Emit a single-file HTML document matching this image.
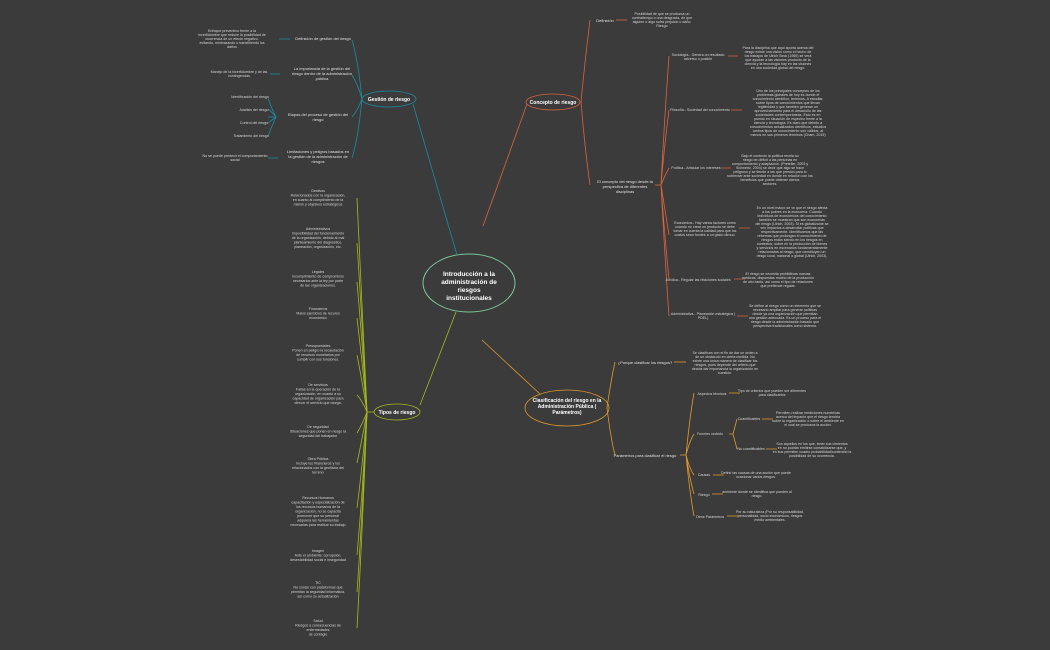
<!DOCTYPE html>
<html><head><meta charset="utf-8"><style>
html,body{margin:0;padding:0;background:#3b3b3b;}
svg{display:block;}
text{font-family:"Liberation Sans",sans-serif;}
.t{font-size:3.6px;fill:#d4d4d4;text-anchor:middle;}
.l{font-size:4px;fill:#e0e0e0;text-anchor:middle;}
.m{font-size:5px;fill:#fff;font-weight:bold;text-anchor:middle;}
</style></head><body>
<svg width="1050" height="650" viewBox="0 0 1050 650" xmlns="http://www.w3.org/2000/svg" fill="none">
<rect width="1050" height="650" fill="#3b3b3b"/>

<!-- central -->
<ellipse cx="469" cy="283" rx="46" ry="29" stroke="#7cc79a" stroke-width="1"/>
<text class="m" style="font-size:6.5px" x="469" y="276">Introducción a la</text>
<text class="m" style="font-size:6.5px" x="469" y="284">administración de</text>
<text class="m" style="font-size:6.5px" x="469" y="292">riesgos</text>
<text class="m" style="font-size:6.5px" x="469" y="300">institucionales</text>

<!-- ===== Gestión de riesgo (teal) ===== -->
<g stroke="#1d8aa3" stroke-width="0.8">
<path d="M457 255 L413 104"/>
<ellipse cx="389" cy="99" rx="27" ry="8"/>
<path d="M362 99 Q358 60 352 40"/>
<path d="M362 99 Q358 85 352 75"/>
<path d="M362 99 Q358 110 352 117"/>
<path d="M362 99 Q358 140 352 158"/>
<path d="M279 39 L290 39"/>
<path d="M270 74 L280 74"/>
<path d="M276 117 Q272 110 268 98 M276 117 Q272 112 268 109 M276 117 Q272 120 268 123 M276 117 Q272 126 268 136"/>
<path d="M268 117 L276 117"/>
<path d="M268 158 L278 158"/>
</g>
<text class="m" x="389" y="101">Gestión de riesgo</text>
<text class="l" x="323" y="40">Definición de gestión del riesgo</text>
<text class="l" x="322" y="70">La importancia de la gestión del</text>
<text class="l" x="322" y="75">riesgo dentro de la administración</text>
<text class="l" x="322" y="80">pública</text>
<text class="l" x="318" y="116">Etapas del proceso de gestión del</text>
<text class="l" x="318" y="121">riesgo</text>
<text class="l" x="318" y="153">Limitaciones y peligros basados en</text>
<text class="l" x="318" y="158">la gestión de la administración de</text>
<text class="l" x="318" y="163">riesgos</text>
<text class="t" x="232" y="32">Enfoque preventivo frente a la</text>
<text class="t" x="232" y="36">incertidumbre que reduce la posibilidad de</text>
<text class="t" x="232" y="40">ocurrencia de un efecto negativo,</text>
<text class="t" x="232" y="44">evitando, minimizando o transfiriendo los</text>
<text class="t" x="232" y="48">daños</text>
<text class="t" x="239" y="73">Manejo de la incertidumbre y de las</text>
<text class="t" x="239" y="77">contingencias</text>
<text class="t" x="250" y="98">Identificación del riesgo</text>
<text class="t" x="254" y="111">Análisis del riesgo</text>
<text class="t" x="254" y="124">Control del riesgo</text>
<text class="t" x="251" y="137">Tratamiento del riesgo</text>
<text class="t" x="235" y="157">No se puede predecir el comportamiento</text>
<text class="t" x="235" y="161">social</text>

<!-- ===== Concepto de riesgo (orange red) ===== -->
<g stroke="#d9653c" stroke-width="0.8">
<path d="M483 226 L527 104"/>
<ellipse cx="553" cy="102" rx="27" ry="8"/>
<path d="M581 102 Q585 60 590 20"/>
<path d="M581 102 Q585 150 590 185"/>
<path d="M616 20 L627 20"/>
<path d="M661 185 Q665 110 669 56 M661 185 Q665 140 669 110 M661 185 Q665 175 669 168 M661 185 Q665 210 669 235 M661 185 Q665 240 669 279 M661 185 Q665 260 669 316"/>
<path d="M655 185 L661 185"/>
<path d="M728 56 L738 56 M731 110 L742 110 M721 168 L731 168 M739 228 L750 228 M734 279 L745 279 M737 316 L748 316"/>
</g>
<text class="m" x="553" y="104">Concepto de riesgo</text>
<text class="l" x="605" y="22">Definición</text>
<text class="t" x="662" y="15">Posibilidad de que se produzca un</text>
<text class="t" x="662" y="19">contratiempo o una desgracia, de que</text>
<text class="t" x="662" y="23">alguien o algo sufra perjuicio o daño.</text>
<text class="t" x="662" y="27">Riesgo</text>
<text class="l" x="625" y="183">El concepto del riesgo desde la</text>
<text class="l" x="625" y="188">perspectiva de diferentes</text>
<text class="l" x="625" y="193">disciplinas</text>
<text class="t" x="698" y="56">Sociología.- Genera un resultado</text>
<text class="t" x="698" y="60">adverso o posible</text>
<text class="t" x="778" y="49">Para la disciplina que aquí aporta acerca del</text>
<text class="t" x="778" y="53">riesgo existe una visión como el hecho de</text>
<text class="t" x="778" y="57">los trabajos de Ulrich Beck (1986) se verá</text>
<text class="t" x="778" y="61">que ayudan a las visiones producto de la</text>
<text class="t" x="778" y="65">ciencia y la tecnología hay en las visiones</text>
<text class="t" x="778" y="69">en una sociedad global del riesgo.</text>
<text class="t" x="700" y="111">Filosofía.- Sociedad del conocimiento</text>
<text class="t" x="788" y="92">Uno de los principales conceptos de los</text>
<text class="t" x="788" y="96">problemas globales de hoy es donde el</text>
<text class="t" x="788" y="100">conocimiento científico, tenemos. A estudiar,</text>
<text class="t" x="788" y="104">sobre tipos de conocimientos que llevan</text>
<text class="t" x="788" y="108">legitimidad y que también generan un</text>
<text class="t" x="788" y="112">aprovechamiento para el desarrollo de las</text>
<text class="t" x="788" y="116">sociedades contemporáneas. Esto es en</text>
<text class="t" x="788" y="120">puesto en situación de espectro frente a la</text>
<text class="t" x="788" y="124">ciencia y tecnología. Es claro que debido a</text>
<text class="t" x="788" y="128">conocimientos actualizados científicos, estudios</text>
<text class="t" x="788" y="132">ambos tipos de conocimiento son válidos, al</text>
<text class="t" x="788" y="136">menos en sus primeros términos (Cham, 2015)</text>
<text class="t" x="696" y="169">Política.- Articular los intereses</text>
<text class="t" x="770" y="157">Bajo el contexto la política revela su</text>
<text class="t" x="770" y="161">riesgo de déficit a las personas en</text>
<text class="t" x="770" y="165">comportamiento y adaptación. (Preteller, 2003 y</text>
<text class="t" x="770" y="169">Schwertz, 2004) se decir que algo se hace</text>
<text class="t" x="770" y="173">peligroso y se tiende a las que presión para lo</text>
<text class="t" x="770" y="177">sobrevivir ante sociedad en donde en relación con los</text>
<text class="t" x="770" y="181">beneficios que puede obtener ciertos</text>
<text class="t" x="770" y="185">sectores.</text>
<text class="t" x="705" y="224">Económica.- Hay varios factores como</text>
<text class="t" x="705" y="228">cuando no crear un producto se debe</text>
<text class="t" x="705" y="232">tomar en cuenta la calidad para que los</text>
<text class="t" x="705" y="236">costos sean frontes a un gasto dirnuo.</text>
<text class="t" x="792" y="209">En un nivel macro se ve que el riesgo afecta</text>
<text class="t" x="792" y="213">a los pobres en la economía. Cuando</text>
<text class="t" x="792" y="217">individuos de económicos del conocimiento</text>
<text class="t" x="792" y="221">también se muestran que son economías</text>
<text class="t" x="792" y="225">del riesgo (Ulrich, 2003). Si es globalizante se</text>
<text class="t" x="792" y="229">ven impactos a desarrollar políticas que</text>
<text class="t" x="792" y="233">respectivamente. Identificamos que las</text>
<text class="t" x="792" y="237">reformas que prolongan el conocimiento de</text>
<text class="t" x="792" y="241">riesgos están siendo en los riesgos en</text>
<text class="t" x="792" y="245">contextos, sobre en la producción de bienes</text>
<text class="t" x="792" y="249">y servicios en escenarios fundamentalmente</text>
<text class="t" x="792" y="253">relacionados al riesgo, que constituyen un</text>
<text class="t" x="792" y="257">riesgo local, nacional o global (Ulrich, 2003).</text>
<text class="t" x="698" y="281">Jurídica.- Regular las relaciones sociales</text>
<text class="t" x="778" y="275">El riesgo se necesita prohibitivas nuevas</text>
<text class="t" x="778" y="279">médicas, dispuestas mucho de la producción</text>
<text class="t" x="778" y="283">de otro tanto, así como el tipo de relaciones</text>
<text class="t" x="778" y="287">que prefiende regular.</text>
<text class="t" x="703" y="315">Administrativa.- Planeación estratégica (</text>
<text class="t" x="703" y="319">PDEL)</text>
<text class="t" x="785" y="307">Se define al riesgo como un elemento que se</text>
<text class="t" x="785" y="311">necesario ampliar para generar políticas</text>
<text class="t" x="785" y="315">desde ya una organización que permitan</text>
<text class="t" x="785" y="319">una gestión adecuada. Es un proceso para el</text>
<text class="t" x="785" y="323">riesgo desde la administración basado que</text>
<text class="t" x="785" y="327">perspectiva tradicionales como sistema.</text>

<!-- ===== Clasificación (orange) ===== -->
<g stroke="#e39a2b" stroke-width="0.8">
<path d="M482 340 L540 394"/>
<ellipse cx="567" cy="408" rx="42" ry="18"/>
<path d="M607 408 Q611 380 615 362"/>
<path d="M607 408 Q611 440 615 455"/>
<path d="M674 362 L686 362"/>
<path d="M686 455 Q690 415 694 393 M686 455 Q690 440 694 434 M686 455 Q690 470 694 475 M686 455 Q690 480 694 494 M686 455 Q690 495 694 516"/>
<path d="M680 455 L686 455"/>
<path d="M729 393 L740 393 M729 434 L733 434 M733 434 L737 419 M733 434 L737 449 M762 419 L773 419 M766 449 L777 449 M713 475 L724 475 M712 494 L723 494 M727 516 L738 516"/>
</g>
<text class="m" x="567" y="402">Clasificación del riesgo en la</text>
<text class="m" x="567" y="408">Administración Pública (</text>
<text class="m" x="567" y="414">Parámetros)</text>
<text class="l" x="645" y="364">¿Porque clasificar los riesgos?</text>
<text class="t" x="725" y="354">Se clasifican con el fin de dar un orden a</text>
<text class="t" x="725" y="358">de un obstáculo en cierta medida. No</text>
<text class="t" x="725" y="362">existe una única manera de clasificar los</text>
<text class="t" x="725" y="366">riesgos, pues depende del criterio que</text>
<text class="t" x="725" y="370">decida dar importancia la organización en</text>
<text class="t" x="725" y="374">cuestión.</text>
<text class="l" x="645" y="457">Parámetros para clasificar el riesgo</text>
<text class="t" x="712" y="395">Aspectos técnicos</text>
<text class="t" x="772" y="392">Tipo de criterios que pueden ser diferentes</text>
<text class="t" x="772" y="396">para clasificarlos</text>
<text class="t" x="710" y="435">Fuentes cedrido</text>
<text class="t" x="749" y="420">Cuantificables</text>
<text class="t" x="808" y="414">Permiten realizar mediciones numéricas</text>
<text class="t" x="808" y="418">acerca del impacto que el riesgo tendría</text>
<text class="t" x="808" y="422">sobre la organización o sobre el ambiente en</text>
<text class="t" x="808" y="426">el cual se produzca la acción.</text>
<text class="t" x="751" y="450">No cuantificables</text>
<text class="t" x="812" y="445">Son aquellos en los que, tener sus cimientos</text>
<text class="t" x="812" y="449">en no podrán emitirse contabilizarse que, y</text>
<text class="t" x="812" y="453">en sus permiten cuadro probabilidad/contenido la</text>
<text class="t" x="812" y="457">posibilidad de su ocurrencia.</text>
<text class="t" x="704" y="476">Causas</text>
<text class="t" x="756" y="474">Definir las causas de una acción que puede</text>
<text class="t" x="756" y="478">ocasionar varios riesgos.</text>
<text class="t" x="704" y="496">Riesgo</text>
<text class="t" x="757" y="493">ambiente donde se identifica que pueden al</text>
<text class="t" x="757" y="497">riesgo.</text>
<text class="t" x="710" y="518">Otros Parámetros</text>
<text class="t" x="770" y="513">Por su naturaleza (Por su responsabilidad,</text>
<text class="t" x="770" y="517">personalidad, socio económicos, riesgos</text>
<text class="t" x="770" y="521">medio ambientales.</text>

<!-- ===== Tipos de riesgo (yellow-green) ===== -->
<g stroke="#a9b91e" stroke-width="0.8">
<path d="M456 312 L420 405"/>
<ellipse cx="397" cy="412" rx="23" ry="8"/>
<path d="M367 412 Q362 300 357 198"/>
<path d="M367 412 Q362 320 357 243"/>
<path d="M367 412 Q362 340 357 282"/>
<path d="M367 412 Q362 360 357 318"/>
<path d="M367 412 Q362 380 357 355"/>
<path d="M367 412 Q362 400 357 395"/>
<path d="M367 412 Q362 425 357 433"/>
<path d="M367 412 Q362 440 357 463"/>
<path d="M367 412 Q362 470 357 508"/>
<path d="M367 412 Q362 500 357 555"/>
<path d="M367 412 Q362 520 357 592"/>
<path d="M367 412 Q362 540 357 628"/>
<path d="M367 412 L374 412"/>
</g>
<text class="m" x="397" y="414">Tipos de riesgo</text>
<g class="t" style="font-size:3.9px">
<text class="t" x="318" y="192">Gestivos</text>
<text class="t" x="318" y="196.5">Relacionados con la organización,</text>
<text class="t" x="318" y="201">en cuanto al cumplimiento de la</text>
<text class="t" x="318" y="205.5">misión y objetivos estratégicos</text>
<text class="t" x="318" y="230">Administrativos</text>
<text class="t" x="318" y="234.5">Imposibilidad del funcionamiento</text>
<text class="t" x="318" y="239">de la organización, debido al mal</text>
<text class="t" x="318" y="243.5">planteamiento del diagnóstico,</text>
<text class="t" x="318" y="248">planeación, organización, etc.</text>
<text class="t" x="318" y="273">Legales</text>
<text class="t" x="318" y="277.5">Incumplimiento de compromisos</text>
<text class="t" x="318" y="282">necesarios ante la ley por parte</text>
<text class="t" x="318" y="286.5">de las organizaciones.</text>
<text class="t" x="318" y="310">Financieros</text>
<text class="t" x="318" y="314.5">Malos ejercicios de recurso</text>
<text class="t" x="318" y="319">económico</text>
<text class="t" x="318" y="347">Presupuestales</text>
<text class="t" x="318" y="351.5">Ponen en peligro la recaudación</text>
<text class="t" x="318" y="356">de recursos monetarios por</text>
<text class="t" x="318" y="360.5">cumplir con sus funciones.</text>
<text class="t" x="318" y="386">De servicios</text>
<text class="t" x="318" y="390.5">Fallas en la operación de la</text>
<text class="t" x="318" y="395">organización, en cuanto a su</text>
<text class="t" x="318" y="399.5">capacidad de organización para</text>
<text class="t" x="318" y="404">ofrecer el servicio que otorga.</text>
<text class="t" x="318" y="428">De seguridad</text>
<text class="t" x="318" y="432.5">Situaciones que ponen en riesgo la</text>
<text class="t" x="318" y="437">seguridad del trabajador</text>
<text class="t" x="318" y="460">Obra Pública</text>
<text class="t" x="318" y="464.5">Incluye los financieros y los</text>
<text class="t" x="318" y="469">relacionados con la geofísica del</text>
<text class="t" x="318" y="473.5">terreno</text>
<text class="t" x="318" y="499">Recursos Humanos</text>
<text class="t" x="318" y="503.5">capacitación y especialización de</text>
<text class="t" x="318" y="508">los recursos humanos de la</text>
<text class="t" x="318" y="512.5">organización, no se capacita</text>
<text class="t" x="318" y="517">promover que su personal</text>
<text class="t" x="318" y="521.5">adquiera las herramientas</text>
<text class="t" x="318" y="526">necesarias para realizar su trabajo</text>
<text class="t" x="318" y="552">Imagen</text>
<text class="t" x="318" y="556.5">Ante el ambiente: corrupción,</text>
<text class="t" x="318" y="561">desestabilidad social e inseguridad</text>
<text class="t" x="318" y="584">TIC</text>
<text class="t" x="318" y="588.5">No contar con plataformas que</text>
<text class="t" x="318" y="593">permitan la seguridad informática,</text>
<text class="t" x="318" y="597.5">así como su actualización</text>
<text class="t" x="318" y="622">Salud</text>
<text class="t" x="318" y="626.5">Riesgos a consecuencias de</text>
<text class="t" x="318" y="631">enfermedades</text>
<text class="t" x="318" y="635.5">de contagio</text>
</g>
</svg>
</body></html>
